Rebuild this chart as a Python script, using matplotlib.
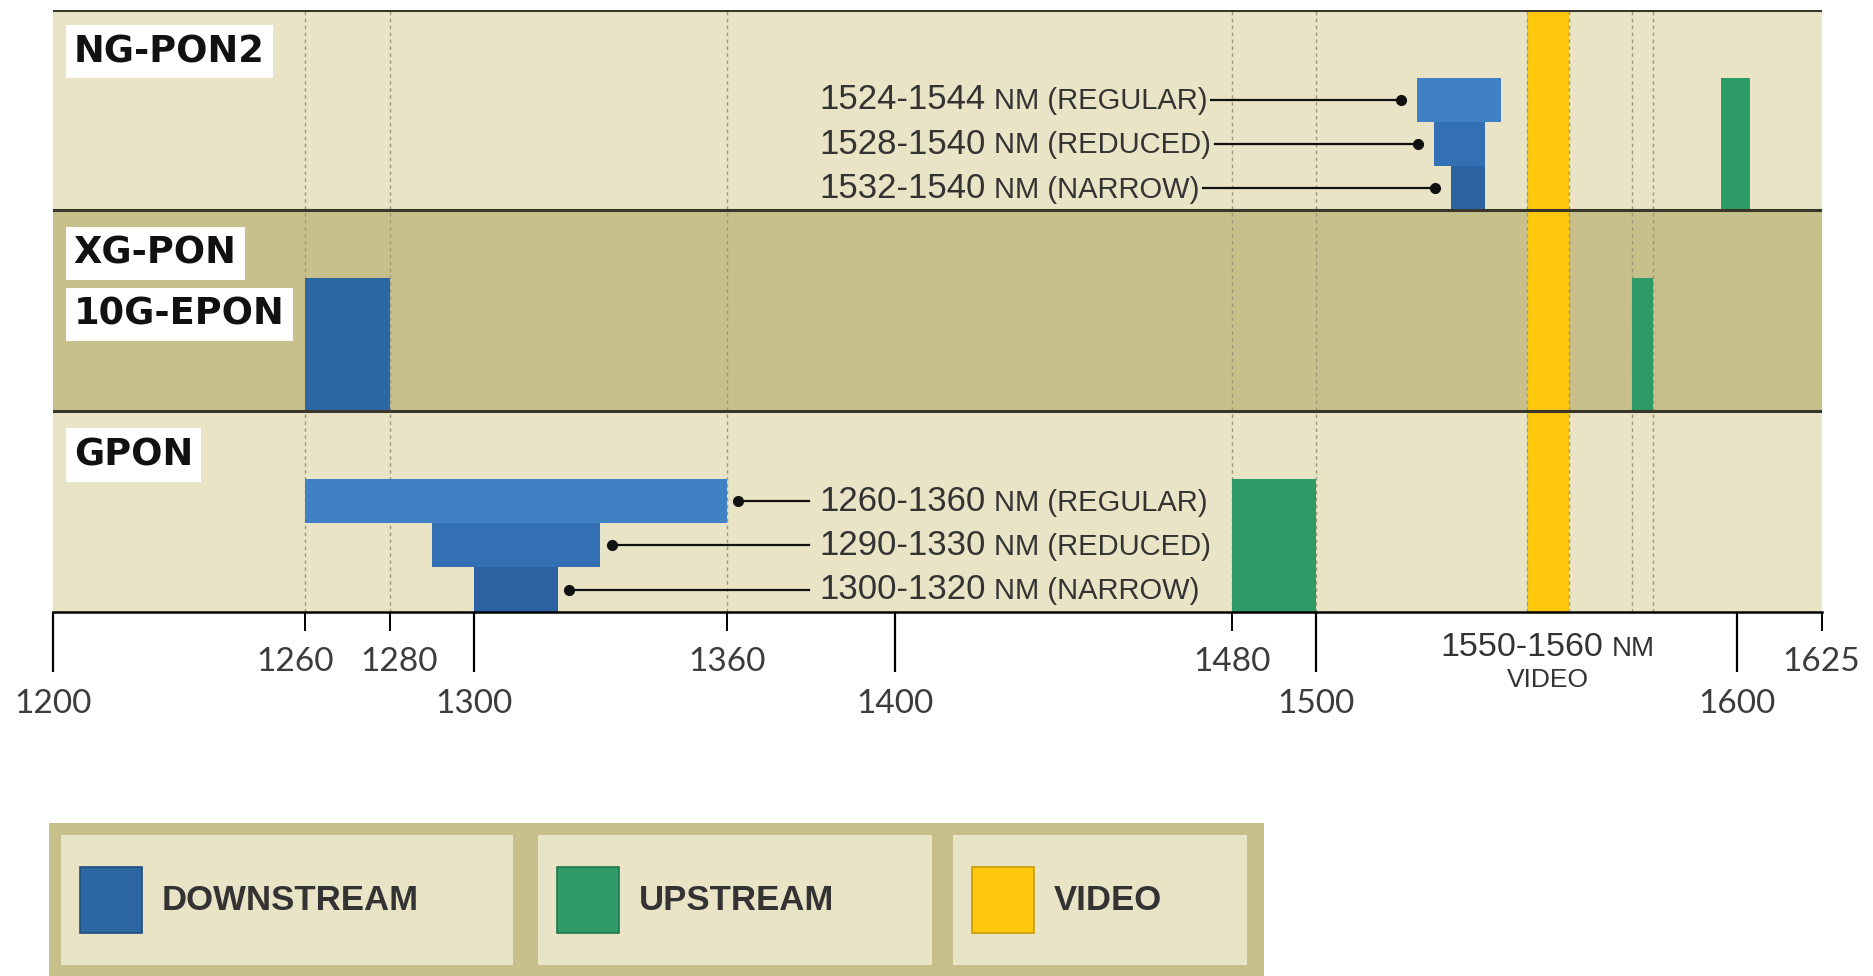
import matplotlib
matplotlib.use("Agg")
import matplotlib.pyplot as plt
from matplotlib.patches import Rectangle
from matplotlib.transforms import ScaledTranslation

# wavelength plan, nm
OPTIONS = ["REGULAR", "REDUCED", "NARROW"]
GPON_DOWN = [(1260, 1360), (1290, 1330), (1300, 1320)]
GPON_UP = (1480, 1500)
XGPON_DOWN = (1260, 1280)
XGPON_UP = (1575, 1580)
NGPON2_DOWN = [(1524, 1544), (1528, 1540), (1532, 1540)]
NGPON2_UP = (1596, 1603)
VIDEO = (1550, 1560)

MAJOR_TICKS = [1200, 1300, 1400, 1500, 1600]
MINOR_TICKS = [1260, 1280, 1360, 1480]
GUIDES = [1260, 1280, 1360, 1480, 1500, 1550, 1560, 1575, 1580]
X_START, X_END = 1200, 1620   # the "1625" end mark is drawn at ~1620 in the original
END_LABEL = "1625"
LEGEND = ["DOWNSTREAM", "UPSTREAM", "VIDEO"]

LIGHT = "#e9e4c5"
DARK = "#c8c08b"
BLUES = ["#4080c4", "#3270b3", "#2b63a3"]
BLUE = "#2d67a3"
GREEN = "#2e9a66"
YELLOW = "#fdc70c"
LINE = "#38372a"
GUIDE = "#9d977b"
TEXT = "#333333"
TICKFONT = ["Lato", "DejaVu Sans"]
NOTEFONT = "Liberation Sans"

W, H = 1873, 976
BAND = 0.22
LABEL_X = 1382

fig = plt.figure(figsize=(W / 100, H / 100), dpi=100)
ax = fig.add_axes([52.6 / W, 1 - 611.6 / H, 1769 / W, 602 / H])
ax.set_xlim(X_START, X_END)
ax.set_ylim(0, 3)

# row bands
for row, col in enumerate([LIGHT, DARK, LIGHT]):
    ax.axhspan(row, row + 1, color=col, lw=0, zorder=0)
ax.axvspan(*VIDEO, color=YELLOW, lw=0, zorder=0.5)
ax.vlines(GUIDES, 0, 3, colors=GUIDE, linestyles=(0, (2.5, 2.5)), lw=1.0, zorder=1)


def band(lo, hi, bottom, height, color):
    ax.bar(lo, height, width=hi - lo, bottom=bottom, align="edge", color=color, lw=0, zorder=2)


# GPON (row 0)
for i, (lo, hi) in enumerate(GPON_DOWN):
    band(lo, hi, (2 - i) * BAND, BAND, BLUES[i])
band(*GPON_UP, 0, 3 * BAND, GREEN)
# XG-PON / 10G-EPON (row 1)
band(*XGPON_DOWN, 1, 3 * BAND, BLUE)
band(*XGPON_UP, 1, 3 * BAND, GREEN)
# NG-PON2 (row 2)
for i, (lo, hi) in enumerate(NGPON2_DOWN):
    band(lo, hi, 2 + (2 - i) * BAND, BAND, BLUES[i])
band(*NGPON2_UP, 2, 3 * BAND, GREEN)

for y in [1, 2, 3]:
    ax.axhline(y, color=LINE, lw=2.2, zorder=3)

for s in ["top", "left", "right"]:
    ax.spines[s].set_visible(False)
ax.spines["bottom"].set_linewidth(1.8)
ax.spines["bottom"].set_zorder(3)


def row_label(y, s):
    ax.text(1205, y, s, fontsize=26.5, fontweight="bold", family="DejaVu Sans", color="#111111",
            ha="left", va="center", zorder=4,
            bbox=dict(boxstyle="square,pad=0.22", fc="white", ec="none"))


row_label(2.79, "NG-PON2")
row_label(1.786, "XG-PON")
row_label(1.482, "10G-EPON")
row_label(0.78, "GPON")


def range_label(x, y, lo, hi, tag, big=25, small=21):
    t1 = ax.text(x, y, f"{lo}-{hi}", fontsize=big, color=TEXT, family=NOTEFONT,
                 ha="left", va="center", zorder=4)
    t2 = ax.annotate(tag, xy=(1, 0), xycoords=t1, xytext=(6, 0.21 * (big - small)),
                     textcoords="offset points", fontsize=small, color=TEXT, family=NOTEFONT,
                     ha="left", va="bottom", zorder=4)
    return t1, t2


# GPON callouts
for i, (lo, hi) in enumerate(GPON_DOWN):
    y = (2 - i) * BAND + BAND / 2
    range_label(LABEL_X, y, lo, hi, f"NM ({OPTIONS[i]})")
    ax.plot([hi + 2.7, LABEL_X - 2.3], [y, y], color="#111111", lw=1.6, zorder=4)
    ax.plot(hi + 2.7, y, "o", ms=7, color="#111111", zorder=4)

# NG-PON2 callouts
ng_labels = []
for i, (lo, hi) in enumerate(NGPON2_DOWN):
    y = 2 + (2 - i) * BAND + BAND / 2
    ng_labels.append(range_label(LABEL_X, y, lo, hi, f"NM ({OPTIONS[i]})")[1])
    ax.plot(lo - 3.8, y, "o", ms=7, color="#111111", zorder=4)

# axis ticks
ax.set_xticks(MAJOR_TICKS)
ax.set_xticklabels([str(t) for t in MAJOR_TICKS])
ax.set_xticks(MINOR_TICKS + [X_END], minor=True)
ax.set_xticklabels([str(t) for t in MINOR_TICKS] + [END_LABEL], minor=True)
ax.tick_params(axis="x", which="major", length=43, width=1.6, pad=13, labelsize=24,
               color="black", labelcolor="#3c3c3c")
ax.tick_params(axis="x", which="minor", length=14, width=1.4, pad=11.5, labelsize=24,
               color="black", labelcolor="#3c3c3c")
ax.tick_params(axis="y", left=False, labelleft=False)
for lab in ax.get_xticklabels() + ax.get_xticklabels(minor=True):
    lab.set_family(TICKFONT)
minor = ax.xaxis.get_minor_ticks()
minor[0].label1.set_transform(minor[0].label1.get_transform()
                              + ScaledTranslation(-10 / 100, 0, fig.dpi_scale_trans))
minor[1].label1.set_transform(minor[1].label1.get_transform()
                              + ScaledTranslation(10 / 100, 0, fig.dpi_scale_trans))

# video label under the axis
v1, v2 = range_label(sum(VIDEO) / 2, -0.18, VIDEO[0], VIDEO[1], "NM", big=24.5, small=20)
ax.text(sum(VIDEO) / 2, -0.34, "VIDEO", fontsize=19, color=TEXT, family=NOTEFONT,
        ha="center", va="center")

fig.canvas.draw()
r = fig.canvas.get_renderer()
e1, e2 = v1.get_window_extent(r), v2.get_window_extent(r)
shift = (e2.x1 - e1.x0) / 2
v1.set_transform(ax.transData + ScaledTranslation(-shift / fig.dpi, 0, fig.dpi_scale_trans))

# NG-PON2 leader lines start right after each label
inv = ax.transData.inverted()
for i, (t2, (lo, hi)) in enumerate(zip(ng_labels, NGPON2_DOWN)):
    ext = t2.get_window_extent(r)
    x0 = inv.transform((ext.x1 + 4, 0))[0]
    y = 2 + (2 - i) * BAND + BAND / 2
    ax.plot([x0, lo - 3.8], [y, y], color="#111111", lw=1.6, zorder=4)


# legend panel
def px(x, y):
    return x / W, 1 - y / H


def box(x0, y0, x1, y1, **kw):
    fig.patches.append(Rectangle(px(x0, y1), (x1 - x0) / W, (y1 - y0) / H,
                                 transform=fig.transFigure, **kw))


box(49, 823, 1264, 976, fc=DARK, ec="none")
cells = [(61, 513), (538, 932), (953, 1247)]
swatch_cols = [(BLUE, "#1f4f80"), (GREEN, "#1f7a4e"), (YELLOW, "#c79a00")]
for (c0, c1), name, (fc, ec) in zip(cells, LEGEND, swatch_cols):
    box(c0, 835, c1, 965, fc=LIGHT, ec="none")
    box(c0 + 19, 867, c0 + 81, 933, fc=fc, ec=ec, lw=1.2)
    fig.text(*px(c0 + 101, 901), name, fontsize=25, fontweight="bold",
             family="Liberation Sans", color=TEXT, ha="left", va="center")

fig.savefig("out.png", dpi=100)
